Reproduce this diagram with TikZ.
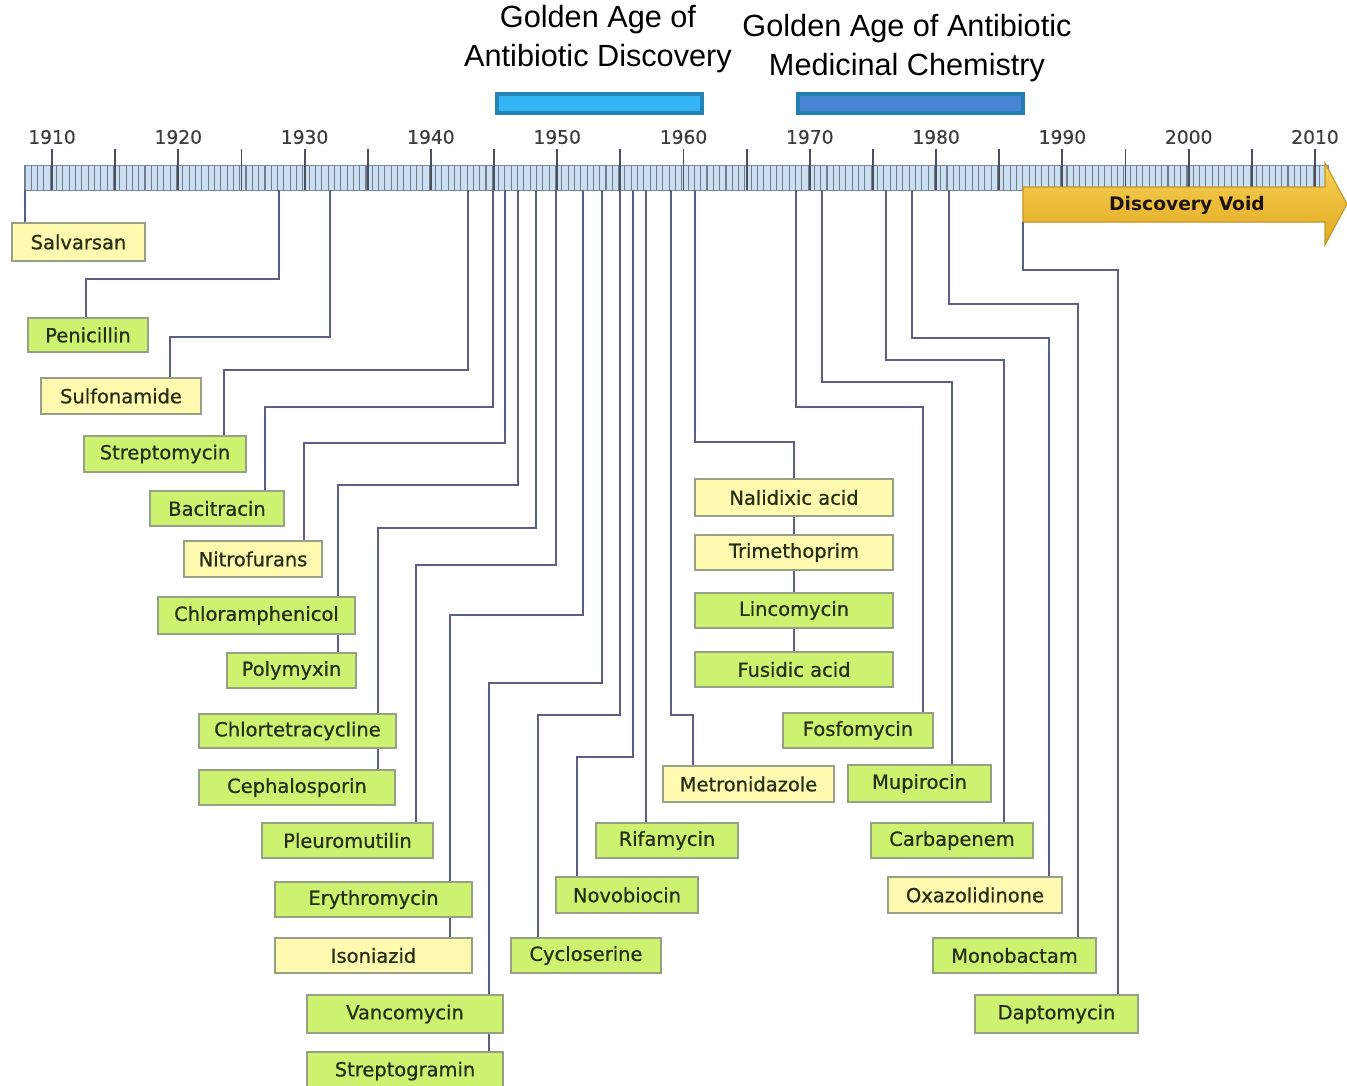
\documentclass[tikz,border=0pt]{standalone}
\usepackage{fontspec}
\setmainfont{DejaVu Sans}
\newfontfamily\headfont{Liberation Sans}
\newfontfamily\boxfont{DejaVu Sans}[FakeBold=0.7]
\newfontfamily\yearfont{DejaVu Sans}[FakeBold=0.4]
\usetikzlibrary{calc}

\definecolor{gfill}{RGB}{204,242,112}
\definecolor{yfill}{RGB}{255,250,176}
\definecolor{boxline}{RGB}{150,160,132}
\definecolor{boxtext}{RGB}{38,46,20}
\definecolor{connc}{RGB}{92,95,133}
\definecolor{barfill}{RGB}{202,223,242}
\definecolor{barline}{RGB}{120,135,160}
\definecolor{tickc}{RGB}{90,100,120}
\definecolor{yearc}{RGB}{60,60,60}
\definecolor{goldtop}{RGB}{246,208,84}
\definecolor{goldbot}{RGB}{226,170,34}
\definecolor{goldline}{RGB}{196,150,40}
\definecolor{discfill}{RGB}{52,182,246}
\definecolor{discline}{RGB}{36,132,184}
\definecolor{medfill}{RGB}{70,132,212}
\definecolor{medline}{RGB}{36,126,178}

\tikzset{
  box/.style={draw=boxline, line width=1.3pt, inner sep=0pt,
    font=\boxfont\fontsize{14.6}{17}\selectfont, text=boxtext},
  gbox/.style={box, fill=gfill},
  ybox/.style={box, fill=yfill},
  conn/.style={draw=connc, line width=1.7pt},
  minortick/.style={draw=tickc!85, line width=0.8pt},
  majortick/.style={draw=tickc!80!black, line width=1.4pt},
  yearlabel/.style={font=\yearfont\fontsize{14}{16}\selectfont, text=yearc},
  headlabel/.style={font=\headfont\fontsize{23}{29}\selectfont, align=center, text=black},
  ageband/.style={line width=2.4pt, inner sep=0pt},
}

% box given by its corners (x1,y1) (x2,y2) in pixel units
\newcommand\drug[7]{%
  \node[#2, minimum width={(#5-#3)*0.75pt}, minimum height={(#6-#4)*0.75pt}]
    (#1) at ({(#3+#5)/2},{(#4+#6)/2}) {#7};}
% connector: down from the time bar, across at height #2, down to box #4 at x=#3
\newcommand\elbow[4]{%
  \draw[conn] (#1) |- (#3,#2) -- (#3,#2 |- #4.north);}

\begin{document}
\begin{tikzpicture}[x=0.75pt,y=-0.75pt]
\useasboundingbox (0,0) rectangle (1347,1086);

% ---- headings and era bands
\node[headlabel] (hdisc) at (598,39) {Golden Age of\\Antibiotic Discovery};
\node[headlabel] (hmed) at (907,48) {Golden Age of Antibiotic\\Medicinal Chemistry};
\drug{banddisc}{ageband, draw=discline, fill=discfill}{497}{94}{702}{113}{}
\drug{bandmed}{ageband, draw=medline, fill=medfill}{798}{94}{1023}{113}{}

% ---- time bar
\fill[barfill] (25,165) rectangle (1328,190);
\foreach \i in {0,...,206}
  \draw[minortick] ({25+\i*6.315},165) -- ({25+\i*6.315},190);
\draw[barline, line width=0.6pt] (25,165) rectangle (1328,190);
\foreach \k in {0,...,20}
  \draw[majortick] ({52+\k*63.15},149) -- ({52+\k*63.15},190);
\foreach \k/\yr in {0/1910,1/1920,2/1930,3/1940,4/1950,5/1960,6/1970,7/1980,8/1990,9/2000,10/2010}
  \node[yearlabel] (yr\yr) at ({52+\k*126.3},137) {\yr};

% ---- discovery void arrow
\shade[top color=goldtop, bottom color=goldbot, draw=goldline, line width=0.8pt]
  (1023,187) -- (1325,187) -- (1325,163) -- (1347,204) -- (1325,245)
  -- (1325,222) -- (1023,222) -- cycle;
\node[font=\bfseries\fontsize{14}{16}\selectfont, text=black!85!brown] (void) at (1187,205) {Discovery Void};

% ---- drug boxes
\drug{salv}{ybox}{12}{223}{145}{261}{Salvarsan}
\drug{pen}{gbox}{28}{318}{148}{352}{Penicillin}
\drug{sulf}{ybox}{41}{378}{201}{414}{Sulfonamide}
\drug{strep}{gbox}{84}{436}{246}{472}{Streptomycin}
\drug{baci}{gbox}{150}{491}{284}{526}{Bacitracin}
\drug{nitro}{ybox}{184}{541}{322}{577}{Nitrofurans}
\drug{chlor}{gbox}{158}{597}{355}{634}{Chloramphenicol}
\drug{poly}{gbox}{227}{653}{356}{688}{Polymyxin}
\drug{chlt}{gbox}{199}{714}{396}{748}{Chlortetracycline}
\drug{ceph}{gbox}{199}{770}{395}{805}{Cephalosporin}
\drug{pleu}{gbox}{262}{823}{433}{858}{Pleuromutilin}
\drug{eryt}{gbox}{275}{882}{472}{917}{Erythromycin}
\drug{ison}{ybox}{275}{938}{472}{973}{Isoniazid}
\drug{vanc}{gbox}{307}{995}{503}{1033}{Vancomycin}
\drug{sgram}{gbox}{307}{1052}{503}{1090}{Streptogramin}
\drug{cycl}{gbox}{511}{938}{661}{973}{Cycloserine}
\drug{novo}{gbox}{556}{877}{698}{913}{Novobiocin}
\drug{rifa}{gbox}{596}{823}{738}{858}{Rifamycin}
\drug{metr}{ybox}{663}{766}{834}{802}{Metronidazole}
\drug{nali}{ybox}{695}{479}{893}{516}{Nalidixic acid}
\drug{trim}{ybox}{695}{535}{893}{570}{Trimethoprim}
\drug{linc}{gbox}{695}{593}{893}{628}{Lincomycin}
\drug{fusi}{gbox}{695}{652}{893}{687}{Fusidic acid}
\drug{fosf}{gbox}{783}{713}{933}{748}{Fosfomycin}
\drug{mupi}{gbox}{848}{765}{991}{802}{Mupirocin}
\drug{carb}{gbox}{871}{823}{1033}{858}{Carbapenem}
\drug{oxaz}{ybox}{888}{877}{1062}{913}{Oxazolidinone}
\drug{mono}{gbox}{933}{938}{1096}{973}{Monobactam}
\drug{dapt}{gbox}{975}{995}{1138}{1033}{Daptomycin}

% ---- points of introduction on the time bar
\coordinate (t-salv) at (25,190);
\coordinate (t-pen) at (279,190);
\coordinate (t-sulf) at (330,190);
\coordinate (t-strep) at (468,190);
\coordinate (t-baci) at (493,190);
\coordinate (t-nitro) at (505,190);
\coordinate (t-chlor) at (518,190);
\coordinate (t-chlt) at (536,190);
\coordinate (t-pleu) at (556,190);
\coordinate (t-eryt) at (583,190);
\coordinate (t-vanc) at (602,190);
\coordinate (t-cycl) at (620,190);
\coordinate (t-novo) at (633,190);
\coordinate (t-rifa) at (646,190);
\coordinate (t-metr) at (671,190);
\coordinate (t-nali) at (695,190);
\coordinate (t-fosf) at (796,190);
\coordinate (t-mupi) at (822,190);
\coordinate (t-carb) at (886,190);
\coordinate (t-oxaz) at (912,190);
\coordinate (t-mono) at (949,190);
\coordinate (t-dapt) at (1023,222);

% ---- connectors
\draw[conn] (t-salv) -- (25,0 |- salv.north);
\elbow{t-pen}{279}{86}{pen}
\elbow{t-sulf}{337}{170}{sulf}
\elbow{t-strep}{370}{224}{strep}
\elbow{t-baci}{407}{265}{baci}
\elbow{t-nitro}{443}{304}{nitro}
\elbow{t-chlor}{485}{338}{chlor}
\draw[conn] (chlor.south -| 338,0) -- (338,0 |- poly.north);
\elbow{t-chlt}{528}{378}{chlt}
\draw[conn] (chlt.south -| 378,0) -- (378,0 |- ceph.north);
\elbow{t-pleu}{565}{416}{pleu}
\elbow{t-eryt}{615}{450}{eryt}
\draw[conn] (eryt.south -| 450,0) -- (450,0 |- ison.north);
\elbow{t-vanc}{683}{489}{vanc}
\draw[conn] (vanc.south -| 489,0) -- (489,0 |- sgram.north);
\elbow{t-cycl}{715}{538}{cycl}
\elbow{t-novo}{757}{577}{novo}
\draw[conn] (t-rifa) -- (646,0 |- rifa.north);
\elbow{t-metr}{715}{693}{metr}
\elbow{t-nali}{442}{794}{nali}
\draw[conn] (nali.south) -- (trim.north);
\draw[conn] (trim.south) -- (linc.north);
\draw[conn] (linc.south) -- (fusi.north);
\elbow{t-fosf}{407}{923}{fosf}
\elbow{t-mupi}{382}{952}{mupi}
\elbow{t-carb}{360}{1004}{carb}
\elbow{t-oxaz}{338}{1049}{oxaz}
\elbow{t-mono}{304}{1078}{mono}
\elbow{t-dapt}{270}{1118}{dapt}
\end{tikzpicture}
\end{document}
